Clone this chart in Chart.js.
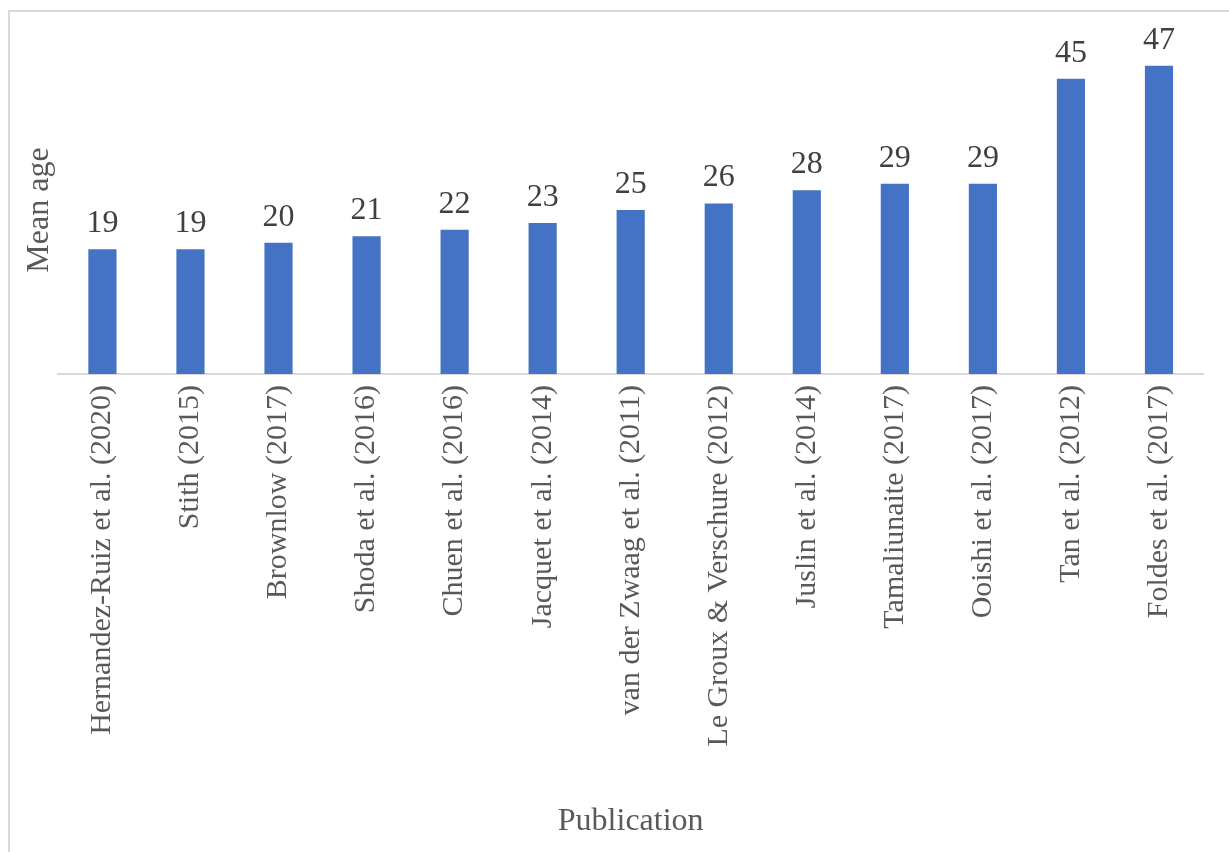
<!DOCTYPE html>
<html>
<head>
<meta charset="utf-8">
<script src="https://cdn.jsdelivr.net/npm/chart.js@4/dist/chart.umd.min.js"></script>
<style>
  html,body{margin:0;padding:0;background:#fff;overflow:hidden;}
  #wrap{position:relative;width:1229px;height:852px;}
  #frame{position:absolute;left:8px;top:10px;width:1400px;height:1000px;border:2px solid #d9d9d9;box-sizing:border-box;}
  canvas{position:absolute;left:0;top:0;}
</style>
</head>
<body>
<div id="wrap">
  <div id="frame"></div>
  <canvas id="myChart" width="1229" height="852"></canvas>
</div>
<script>
const publications=["Hernandez-Ruiz et al. (2020)","Stith (2015)","Brownlow (2017)","Shoda et al. (2016)","Chuen et al. (2016)","Jacquet et al. (2014)","van der Zwaag et al. (2011)","Le Groux & Verschure (2012)","Juslin et al. (2014)","Tamaliunaite (2017)","Ooishi et al. (2017)","Tan et al. (2012)","Foldes et al. (2017)"];
const meanAge=[19,19,20,21,22,23,25,26,28,29,29,45,47];
const yMin=0;
const yMax=50;

const serif="'Liberation Serif','Times New Roman',serif";

// numbers above each bar
const valueLabels={
    id:"valueLabels",
    afterDatasetsDraw(chart){
        const c=chart.ctx;
        const meta=chart.getDatasetMeta(0);
        c.save();
        c.font="32px "+serif;
        c.fillStyle="#404040";
        c.textAlign="center";
        c.textBaseline="alphabetic";
        meta.data.forEach((bar,i)=>{
            c.fillText(String(meanAge[i]),bar.x,bar.y-17);
        });
        c.restore();
    }
};

const ctx=document.getElementById("myChart");
const myChart=new Chart(ctx,{
    type:"bar",
    data:{
        labels:publications,
        datasets:[{
            data:meanAge,
            backgroundColor:"#4472C4",
            categoryPercentage:1,
            barPercentage:0.32
        }]
    },
    options:{
        responsive:false,
        animation:false,
        layout:{padding:{top:46,left:18,right:26,bottom:8}},
        plugins:{legend:{display:false},tooltip:{enabled:false}},
        scales:{
            x:{
                grid:{display:false,drawTicks:false},
                border:{display:true,color:"#d9d9d9",width:2},
                ticks:{
                    color:"#595959",
                    font:{family:serif,size:30},
                    minRotation:90,maxRotation:90,
                    padding:11,
                    autoSkip:false
                },
                title:{
                    display:true,
                    text:"Publication",
                    color:"#595959",
                    font:{family:serif,size:32},
                    padding:{top:0,bottom:3}
                },
                // keep the plot floor where the long labels still fit below it
                afterFit(scale){ scale.height=470; }
            },
            y:{
                min:yMin,max:yMax,
                grid:{display:false,drawTicks:false},
                border:{display:false},
                ticks:{display:false},
                title:{
                    display:true,
                    text:"Mean age",
                    color:"#595959",
                    font:{family:serif,size:32},
                    padding:{top:2,bottom:0}
                }
            }
        }
    },
    plugins:[valueLabels]
});
</script>
</body>
</html>
